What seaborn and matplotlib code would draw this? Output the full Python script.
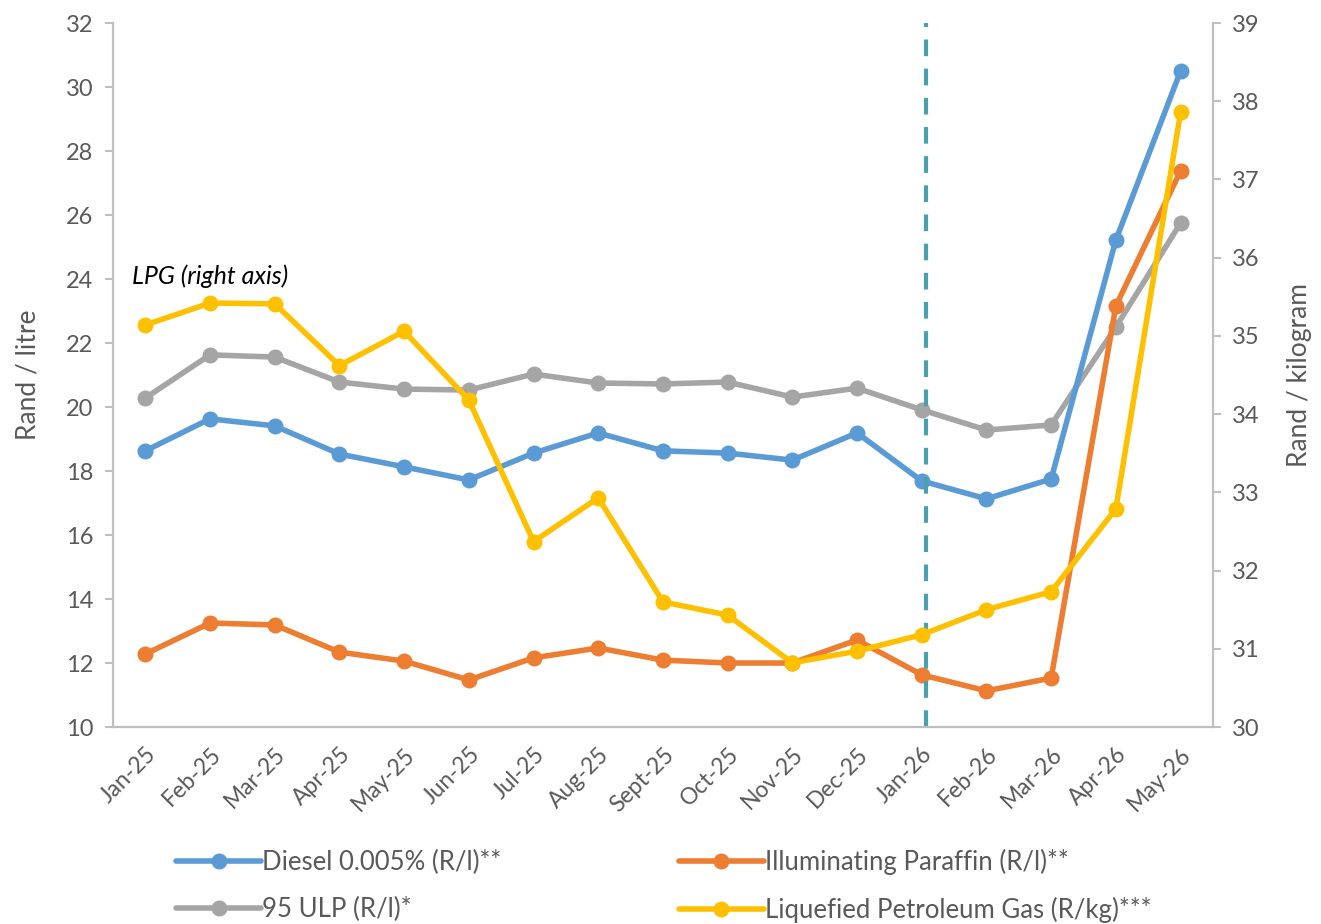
"""Fuel price history: diesel, paraffin, petrol (left axis) and LPG (right axis)."""

import matplotlib.pyplot as plt
import numpy as np
import seaborn as sns
from matplotlib.lines import Line2D

months = ["Jan-25", "Feb-25", "Mar-25", "Apr-25", "May-25", "Jun-25", "Jul-25",
          "Aug-25", "Sept-25", "Oct-25", "Nov-25", "Dec-25", "Jan-26", "Feb-26",
          "Mar-26", "Apr-26", "May-26"]
diesel = [18.63, 19.63, 19.41, 18.53, 18.13, 17.72, 18.56, 19.19, 18.63, 18.56,
          18.34, 19.19, 17.69, 17.13, 17.75, 25.22, 30.50]
paraffin = [12.28, 13.25, 13.19, 12.34, 12.06, 11.47, 12.16, 12.47, 12.09, 12.00,
            12.00, 12.72, 11.63, 11.13, 11.53, 23.16, 27.38]
ulp95 = [20.28, 21.63, 21.56, 20.78, 20.56, 20.53, 21.03, 20.75, 20.72, 20.78,
         20.31, 20.59, 19.91, 19.28, 19.44, 22.50, 25.75]
lpg = [35.14, 35.42, 35.41, 34.62, 35.06, 34.18, 32.37, 32.93, 31.60, 31.43,
       30.82, 30.97, 31.18, 31.50, 31.73, 32.79, 37.86]

labels = {"diesel": "Diesel 0.005% (R/l)**", "paraffin": "Illuminating Paraffin (R/l)**",
          "ulp": "95 ULP (R/l)*", "lpg": "Liquefied Petroleum Gas (R/kg)***"}
colors = {"diesel": "#5B9BD5", "paraffin": "#ED7D31", "ulp": "#A5A5A5", "lpg": "#FFC000"}
marker_month = "Jan-26"

sns.set_style("white")
plt.rcParams["font.family"] = ["Lato", "DejaVu Sans"]
text_color = "#595959"
spine_color = "#BFBFBF"

fig = plt.figure(figsize=(13.21, 9.24), dpi=100)
ax = fig.add_axes([0.0855, 0.2132, 0.8327, 0.7619])
ax2 = ax.twinx()

x = np.arange(len(months))
line_kw = dict(marker="o", markersize=11.5, linewidth=4, markeredgewidth=0)

sns.lineplot(x=x, y=ulp95, ax=ax, color=colors["ulp"], **line_kw)
sns.lineplot(x=x, y=diesel, ax=ax, color=colors["diesel"], **line_kw)
sns.lineplot(x=x, y=paraffin, ax=ax, color=colors["paraffin"], **line_kw)
sns.lineplot(x=x, y=lpg, ax=ax2, color=colors["lpg"], **line_kw)

ax.axvline(months.index(marker_month) + 0.06, color="#4BA0AD", linewidth=3,
           linestyle=(0, (4, 3)))

ax.set_xlim(-0.5, len(months) - 0.5)
ax.set_ylim(10, 32)
ax.set_yticks(np.arange(10, 33, 2))
ax2.set_ylim(30, 39)
ax2.set_yticks(np.arange(30, 40, 1))

ax.set_xticks(x)
ax.set_xticklabels(months, rotation=45, ha="right", rotation_mode="anchor")
ax.set_xticks(np.arange(-0.5, len(months), 1), minor=True)
ax.tick_params(axis="x", which="major", length=0, pad=12, labelsize=16.5, labelcolor=text_color)
ax.tick_params(axis="x", which="minor", length=7, color=spine_color, width=1.5, direction="out")
ax.tick_params(axis="y", length=6, color=spine_color, width=1.5, direction="out",
               labelsize=17, labelcolor=text_color, left=True, pad=8)
ax2.tick_params(axis="y", length=6, color=spine_color, width=1.5, direction="out",
                labelsize=17, labelcolor=text_color, right=True, pad=8)

for a in (ax, ax2):
    a.spines["top"].set_visible(False)
    for side in ("left", "right", "bottom"):
        a.spines[side].set_color(spine_color)
        a.spines[side].set_linewidth(1.5)
ax2.patch.set_visible(False)

ax.set_ylabel("Rand / litre", fontsize=19, color=text_color, labelpad=18)
ax2.set_ylabel("Rand / kilogram", fontsize=19, color=text_color, labelpad=19)

ax.text(-0.2, 23.85, "LPG (right axis)", fontsize=18, style="italic", color="black")

# column-wise fill: first column diesel/ulp, second paraffin/lpg
order = ["diesel", "ulp", "paraffin", "lpg"]
handles = [Line2D([], [], color=colors[k], **line_kw) for k in order]
fig.legend(handles, [labels[k] for k in order], loc="lower left",
           bbox_to_anchor=(0.116, -0.024), ncol=2, frameon=False, fontsize=18.5,
           labelcolor=text_color, handlelength=3.3, handletextpad=0.05,
           columnspacing=6.9, labelspacing=0.85)

fig.savefig("out.png", dpi=100)
plt.close(fig)
